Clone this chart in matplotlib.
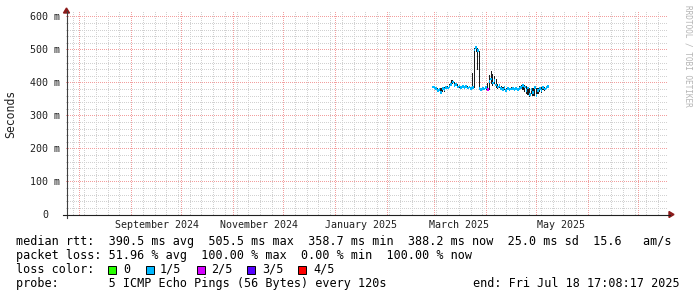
import matplotlib
matplotlib.use('Agg')
import numpy as np
import matplotlib.pyplot as plt
import matplotlib.dates as mdates
from matplotlib.patches import Rectangle, Polygon
from matplotlib.lines import Line2D
from datetime import datetime, timedelta

# ---------------- data ----------------
end_time = datetime(2025, 7, 18, 17, 8, 17)
span_days = 360
first_day = datetime(2025, 2, 28)

median_ms = [388, 387, 384, 378, 381, 372, 384, 380, 387, 385,
             390, 396, 403, 392, 396, 388, 391, 386, 390, 386,
             389, 385, 388, 384, 386, 500, 507, 498, 384, 381,
             384, 382, 386, 380, 405, 412, 400, 408, 394, 388,
             392, 384, 381, 386, 378, 383, 380, 382, 384, 380,
             383, 381, 384, 386, 392, 388, 376, 385, 366, 380,
             372, 386, 362, 378, 384, 376, 386, 382, 387, 389]
smoke_lo = [385, 384, 380, 372, 376, 366, 372, 374, 382, 382,
            386, 390, 396, 388, 390, 384, 386, 382, 386, 382,
            384, 382, 384, 380, 382, 386, 495, 440, 380, 378,
            380, 378, 380, 376, 378, 398, 392, 396, 386, 382,
            384, 378, 376, 380, 372, 378, 376, 378, 380, 376,
            378, 376, 380, 382, 380, 372, 366, 364, 358, 366,
            360, 362, 358, 366, 372, 370, 378, 376, 382, 384]
smoke_hi = [392, 390, 388, 386, 384, 384, 388, 388, 390, 392,
            396, 410, 410, 404, 400, 396, 394, 392, 393, 390,
            392, 390, 392, 388, 430, 505, 510, 505, 498, 386,
            388, 386, 390, 400, 425, 435, 428, 420, 412, 398,
            398, 392, 388, 390, 386, 388, 386, 388, 388, 386,
            388, 386, 390, 394, 398, 394, 390, 388, 386, 384,
            386, 390, 384, 386, 388, 388, 390, 388, 392, 392]
loss_count = [1] * 33 + [2] + [1] * 36

loss_labels = ['0', '1/5', '2/5', '3/5', '4/5']
loss_colors = ['#26ff00', '#00b8ff', '#d400ff', '#5500ff', '#ff0000']

y_ticks = [0, 100, 200, 300, 400, 500, 600]
y_labels = ['0  ', '100 m', '200 m', '300 m', '400 m', '500 m', '600 m']
y_minor_step = 20

x_label_dates = [datetime(2024, 9, 16), datetime(2024, 11, 16), datetime(2025, 1, 16),
                 datetime(2025, 3, 16), datetime(2025, 5, 16)]
x_labels = ['September 2024', 'November 2024', 'January 2025', 'March 2025', 'May 2025']

legend_lines = [
    'median rtt:  390.5 ms avg  505.5 ms max  358.7 ms min  388.2 ms now  25.0 ms sd  15.6   am/s',
    'packet loss: 51.96 % avg  100.00 % max  0.00 % min  100.00 % now',
]
loss_title = 'loss color:'
probe_text = 'probe:       5 ICMP Echo Pings (56 Bytes) every 120s'
end_text = 'end: Fri Jul 18 17:08:17 2025'
watermark = 'RRDTOOL / TOBI OETIKER'

# ---------------- figure ----------------
W, H = 697, 297
fig = plt.figure(figsize=(W / 100, H / 100), dpi=100)
fig.patch.set_facecolor('white')
MONO = 'DejaVu Sans Mono'


def fx(px):
    return px / W


def fy(py):
    return 1 - py / H


AX_L, AX_R, AX_T, AX_B = 66, 668, 12, 215
ax = fig.add_axes([fx(AX_L), fy(AX_B), (AX_R - AX_L) / W, (AX_B - AX_T) / H])
ax.set_facecolor('none')

start_time = end_time - timedelta(days=span_days)
ax.set_xlim(start_time, end_time)
ax.set_ylim(0, 615)
ax.set_xticks([])
ax.set_yticks([])
for s in ax.spines.values():
    s.set_visible(False)

# ---- dotted pixel grid (positions from the axes' own transform) ----
month_loc = mdates.MonthLocator(bymonthday=1)
week_loc = mdates.WeekdayLocator(byweekday=mdates.SU)
x0n, x1n = mdates.date2num(start_time), mdates.date2num(end_time)
major_x = [v for v in month_loc.tick_values(start_time, end_time) if x0n <= v <= x1n]
minor_x = [v for v in week_loc.tick_values(start_time, end_time) if x0n <= v <= x1n]
major_y = list(range(0, 601, 100))
minor_y = [v for v in range(0, 616, y_minor_step) if v % 100 != 0]

img = np.zeros((H, W, 4))
col_minor = np.array([0.82, 0.82, 0.82, 1.0])
col_major = np.array([0.95, 0.62, 0.62, 1.0])
cols = np.arange(AX_L, AX_R)
rows = np.arange(H - AX_B, H - AX_T)   # from bottom


def hline(v, c):
    r = int(np.floor(ax.transData.transform((x0n, v))[1]))
    r = min(max(r, 0), H - 1)
    for cc in cols:
        if cc % 2 == 0:
            img[r, cc] = c


def vline(v, c):
    cpx = int(np.floor(ax.transData.transform((v, 0))[0]))
    for rr in rows:
        if rr % 2 == 0:
            img[rr, cpx] = c


for v in minor_y:
    hline(v, col_minor)
for v in minor_x:
    vline(v, col_minor)
for v in major_y[1:]:
    hline(v, col_major)
for v in major_x:
    vline(v, col_major)
fig.figimage(img, xo=0, yo=0, origin='lower', zorder=-1)

# ---- data ----
days = [first_day + timedelta(days=i) for i in range(len(median_ms))]
heights = [h - l for h, l in zip(smoke_hi, smoke_lo)]
ax.bar(days, heights, bottom=smoke_lo, width=0.7, color='#1c1c1c', linewidth=0, zorder=3)
band = 8.5
ax.bar(days, [band] * len(days), bottom=[m - band / 2 for m in median_ms], width=1.0,
       color=[loss_colors[c] for c in loss_count], linewidth=0, zorder=4)

# axes lines and arrows
fig.add_artist(Line2D([fx(AX_L + 0.5), fx(AX_L + 0.5)], [fy(218), fy(11)], color='#404040', lw=0.8))
fig.add_artist(Line2D([fx(63), fx(670)], [fy(AX_B - 0.5), fy(AX_B - 0.5)], color='#202020', lw=0.8))
fig.add_artist(Polygon([[fx(63.5), fy(13)], [fx(69.5), fy(13)], [fx(66.5), fy(8)]],
                       closed=True, color='#8b1a1a', transform=fig.transFigure))
fig.add_artist(Polygon([[fx(669), fy(211.5)], [fx(669), fy(217.5)], [fx(674), fy(214.5)]],
                       closed=True, color='#8b1a1a', transform=fig.transFigure))

# y tick labels
cw_tick = 6.02
for v, s in zip(y_ticks, y_labels):
    ypx = AX_B - v * (AX_B - AX_T) / 615
    fig.text(fx(60 - len(s) * cw_tick), fy(ypx), s.rstrip(), ha='left', va='center',
             family=MONO, fontsize=7.2, color='#202020')

# x labels
for d, s in zip(x_label_dates, x_labels):
    xpx = AX_L + (d - start_time).total_seconds() / 86400 * (AX_R - AX_L) / span_days
    fig.text(fx(xpx), fy(225), s, ha='center', va='center', family=MONO, fontsize=7.2,
             color='#202020')

fig.text(fx(11), fy(114), 'Seconds', rotation=90, ha='center', va='center',
         family=MONO, fontsize=8.3, color='#202020')

# legend
FS = 8.45
fig.text(fx(16), fy(241.7), legend_lines[0], ha='left', va='center', family=MONO, fontsize=FS)
fig.text(fx(16), fy(255.3), legend_lines[1], ha='left', va='center', family=MONO, fontsize=FS)
fig.text(fx(16), fy(269.3), loss_title, ha='left', va='center', family=MONO, fontsize=FS)
box_x = [108, 146, 197, 247, 298]
lab_x = [123, 160, 211, 262, 313]
for bx, lx, c, s in zip(box_x, lab_x, loss_colors, loss_labels):
    fig.add_artist(Rectangle((fx(bx), fy(273.5)), 8 / W, 8 / H, facecolor=c,
                             edgecolor='black', lw=0.7, transform=fig.transFigure))
    fig.text(fx(lx), fy(269.3), s, ha='left', va='center', family=MONO, fontsize=FS)
fig.text(fx(16), fy(283.3), probe_text, ha='left', va='center', family=MONO, fontsize=FS)
fig.text(fx(680), fy(283.3), end_text, ha='right', va='center', family=MONO, fontsize=FS)

fig.text(fx(688), fy(5), watermark, rotation=-90, ha='center', va='top',
         family=MONO, fontsize=5.6, color='#b4b4b4')

fig.savefig('out.png', dpi=100, facecolor='white')
